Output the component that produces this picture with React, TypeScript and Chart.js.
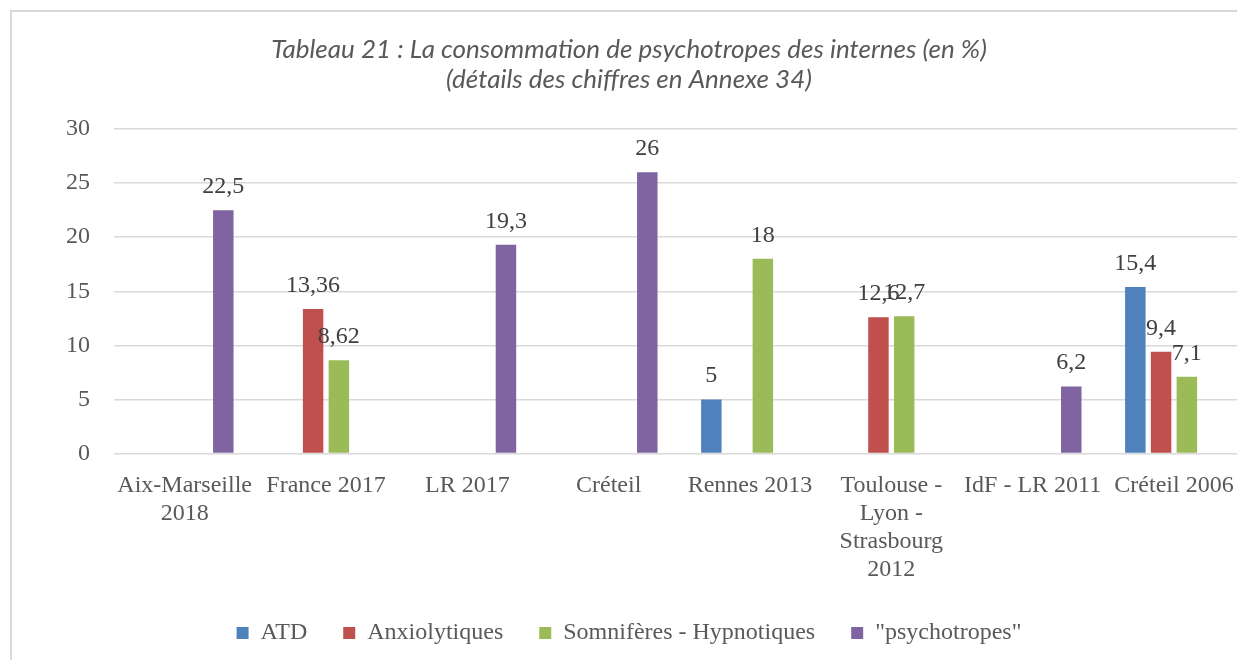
import React, { useEffect, useRef } from "react";
import { Chart, registerables } from "chart.js";

Chart.register(...registerables);

const categories: (string | string[])[] = [
  ["Aix-Marseille", "2018"],
  "France 2017",
  "LR 2017",
  "Créteil",
  "Rennes 2013",
  ["Toulouse -", "Lyon -", "Strasbourg", "2012"],
  "IdF - LR 2011",
  "Créteil 2006",
];
const atd = [null, null, null, null, 5, null, null, 15.4];
const anxiolytiques = [null, 13.36, null, null, null, 12.6, null, 9.4];
const somniferes = [null, 8.62, null, null, 18, 12.7, null, 7.1];
const psychotropes = [22.5, null, 19.3, 26, null, null, 6.2, null];
const seriesNames = ["ATD", "Anxiolytiques", "Somnifères - Hypnotiques", '"psychotropes"'];
const seriesColors = ["#4F81BD", "#C0504D", "#9BBB59", "#8064A2"];
const yMin = 0;
const yMax = 30;
const yStep = 5;
const titleLines = [
  "Tableau 21 : La consommation de psychotropes des internes (en %)",
  "(détails des chiffres en Annexe 34)",
];

const SERIF = '"Liberation Serif", "Times New Roman", serif';

const valueLabels = {
  id: "valueLabels",
  afterDatasetsDraw(chart: any) {
    const ctx = chart.ctx;
    ctx.save();
    ctx.font = `24px ${SERIF}`;
    ctx.fillStyle = "#404040";
    ctx.textAlign = "center";
    ctx.textBaseline = "alphabetic";
    chart.data.datasets.forEach((ds: any, i: number) => {
      const meta = chart.getDatasetMeta(i);
      meta.data.forEach((bar: any, j: number) => {
        const v = ds.data[j];
        if (v == null) return;
        ctx.fillText(String(v).replace(".", ","), bar.x, bar.y - 17);
      });
    });
    ctx.restore();
  },
};

export default function App() {
  const ref = useRef<HTMLCanvasElement | null>(null);
  useEffect(() => {
    if (!ref.current) return;
    const seriesData = [atd, anxiolytiques, somniferes, psychotropes];
    const chart = new Chart(ref.current, {
      type: "bar",
      data: {
        labels: categories as any,
        datasets: seriesData.map((d, i) => ({
          label: seriesNames[i],
          data: d as any,
          backgroundColor: seriesColors[i],
          borderWidth: 0,
          categoryPercentage: 0.729,
          barPercentage: 0.795,
        })),
      },
      options: {
        responsive: false,
        animation: false,
        devicePixelRatio: 1,
        layout: { padding: { left: 0, right: 6, top: 0, bottom: 0 } },
        plugins: {
          title: {
            display: true,
            text: titleLines,
            color: "#595959",
            font: { family: "Lato", style: "italic", size: 26, weight: "normal", lineHeight: 30 / 26 },
            padding: { top: 23, bottom: 34 },
          },
          legend: {
            position: "bottom",
            labels: {
              boxWidth: 12,
              boxHeight: 12,
              padding: 36,
              color: "#595959",
              font: { family: SERIF, size: 24 },
            },
          },
          tooltip: { enabled: false },
        },
        scales: {
          x: {
            grid: { display: false, drawTicks: false },
            border: { display: false },
            ticks: {
              color: "#595959",
              font: { family: SERIF, size: 24, lineHeight: 28 / 24 },
              padding: 18,
              maxRotation: 0,
              autoSkip: false,
            },
            afterFit: (s: any) => {
              s.height = 131.5;
            },
          },
          y: {
            min: yMin,
            max: yMax,
            grid: { color: "#D9D9D9", lineWidth: 1.5, drawTicks: false },
            border: { display: false },
            ticks: {
              stepSize: yStep,
              color: "#595959",
              font: { family: SERIF, size: 24 },
              padding: 24,
            },
            afterFit: (s: any) => {
              s.width = 102;
            },
          },
        },
      },
      plugins: [valueLabels],
    });
    return () => chart.destroy();
  }, []);

  return (
    <div
      style={{
        position: "fixed",
        left: 0,
        top: 0,
        width: 1237,
        height: 660,
        overflow: "hidden",
        background: "#fff",
      }}
    >
      <div
        style={{
          position: "absolute",
          left: 10,
          top: 10,
          width: 1244,
          height: 700,
          border: "2px solid #D9D9D9",
          boxSizing: "border-box",
        }}
      >
        <canvas ref={ref} width={1240} height={643} style={{ display: "block" }} />
      </div>
    </div>
  );
}
